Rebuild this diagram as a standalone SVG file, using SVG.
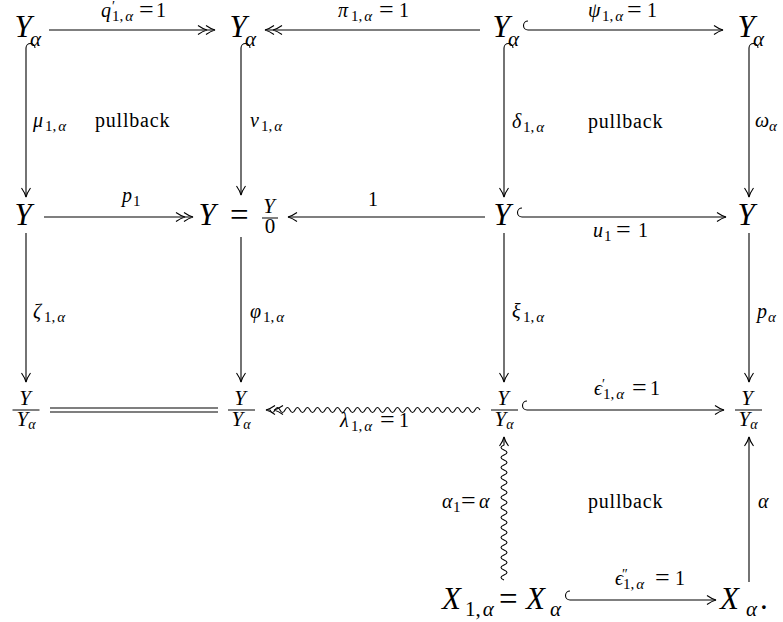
<svg xmlns="http://www.w3.org/2000/svg" width="783" height="622" viewBox="0 0 783 622">
<style>
.t{font-family:"Liberation Serif","Times New Roman",serif;fill:#000}
.i{font-style:italic}
.N{font-size:31px}
.eqN{font-size:33px}
.F{font-size:21px}
.L{font-size:20px}
.s{font-size:15px}
.eq{font-size:26px}
.s1{font-size:14px}
.pb{font-size:20px;letter-spacing:0.8px}
.a{fill:none;stroke:#000;stroke-width:1.1}
.bar{stroke:#000;stroke-width:1}
</style>
<defs>
<marker id="h1" markerUnits="userSpaceOnUse" orient="auto" markerWidth="20" markerHeight="20" refX="0" refY="0" style="overflow:visible">
<path d="M-9,-4.5 Q-4,-1 0,0 Q-4,1 -9,4.5" fill="none" stroke="#000" stroke-width="1.1"/>
</marker>
<marker id="h2" markerUnits="userSpaceOnUse" orient="auto" markerWidth="20" markerHeight="20" refX="0" refY="0" style="overflow:visible">
<path d="M-9,-4.5 Q-4,-1 0,0 Q-4,1 -9,4.5 M-17,-4.5 Q-12,-1 -8,0 Q-12,1 -17,4.5" fill="none" stroke="#000" stroke-width="1.1"/>
</marker>
</defs>
<rect width="783" height="622" fill="#fff"/>

<g id="connectors">
<path class="a" d="M49,30 H215" marker-end="url(#h2)"/>
<path class="a" d="M480,30 H265" marker-end="url(#h2)"/>
<path class="a" d="M528,30 A4.5,4.5 0 0 1 528,21"/>
<path class="a" d="M528,30 H723" marker-end="url(#h1)"/>
<path class="a" d="M44,217 H193" marker-end="url(#h2)"/>
<path class="a" d="M485,217 H288" marker-end="url(#h1)"/>
<path class="a" d="M522,217 A4.5,4.5 0 0 1 522,208"/>
<path class="a" d="M522,217 H726" marker-end="url(#h1)"/>
<path class="a" d="M50,408 H218 M50,412 H218"/>
<path class="a" d="M480,410 q-2.5,-5 -5,0 t-5,0 t-5,0 t-5,0 t-5,0 t-5,0 t-5,0 t-5,0 t-5,0 t-5,0 t-5,0 t-5,0 t-5,0 t-5,0 t-5,0 t-5,0 t-5,0 t-5,0 t-5,0 t-5,0 t-5,0 t-5,0 t-5,0 t-5,0 t-5,0 t-5,0 t-5,0 t-5,0 t-5,0 t-5,0 t-5,0 t-5,0 t-5,0 t-5,0 t-5,0 t-5,0 t-5,0 t-5,0 t-5,0 t-5,0 t-5,0 t-5,0 l-4,0" marker-end="url(#h2)"/>
<path class="a" d="M527,410 A4.5,4.5 0 0 1 527,401"/>
<path class="a" d="M527,410 H724" marker-end="url(#h1)"/>
<path class="a" d="M570,600 A4.5,4.5 0 0 1 570,591"/>
<path class="a" d="M570,600 H716" marker-end="url(#h1)"/>
<path class="a" d="M26,48 A4.5,4.5 0 0 1 35,48"/>
<path class="a" d="M26,48 V197" marker-end="url(#h1)"/>
<path class="a" d="M241,48 A4.5,4.5 0 0 1 250,48"/>
<path class="a" d="M241,48 V195" marker-end="url(#h1)"/>
<path class="a" d="M504,48 A4.5,4.5 0 0 1 513,48"/>
<path class="a" d="M504,48 V197" marker-end="url(#h1)"/>
<path class="a" d="M749,48 A4.5,4.5 0 0 1 758,48"/>
<path class="a" d="M749,48 V197" marker-end="url(#h1)"/>
<path class="a" d="M26,233 V382" marker-end="url(#h1)"/>
<path class="a" d="M241,237 V382" marker-end="url(#h1)"/>
<path class="a" d="M504,233 V382" marker-end="url(#h1)"/>
<path class="a" d="M749,233 V382" marker-end="url(#h1)"/>
<path class="a" d="M504,580 q-6,-2.5 0,-5 t0,-5 t0,-5 t0,-5 t0,-5 t0,-5 t0,-5 t0,-5 t0,-5 t0,-5 t0,-5 t0,-5 t0,-5 t0,-5 t0,-5 t0,-5 t0,-5 t0,-5 t0,-5 t0,-5 t0,-5 t0,-5 t0,-5 t0,-5 t0,-5 t0,-5 t0,-5 l0,-8" marker-end="url(#h1)"/>
<path class="a" d="M749,582 V437" marker-end="url(#h1)"/>
</g>

<g id="n11"><text class="t i N" x="23" y="37" text-anchor="middle">Y</text><text class="t i F" x="30" y="46">α</text></g>
<g id="n12"><text class="t i N" x="238" y="37" text-anchor="middle">Y</text><text class="t i F" x="245" y="46">α</text></g>
<g id="n13"><text class="t i N" x="501" y="37" text-anchor="middle">Y</text><text class="t i F" x="508" y="46">α</text></g>
<g id="n14"><text class="t i N" x="746" y="37" text-anchor="middle">Y</text><text class="t i F" x="753" y="46">α</text></g>

<g id="n21"><text class="t i N" x="23" y="225" text-anchor="middle">Y</text></g>
<g id="n22"><text class="t i N" x="207" y="225" text-anchor="middle">Y</text><text class="t eqN" x="230" y="226">=</text><text class="t i F" x="269" y="213" text-anchor="middle">Y</text><line class="bar" x1="262" y1="218" x2="278" y2="218"/><text class="t F" x="270" y="233" text-anchor="middle">0</text></g>
<g id="n23"><text class="t i N" x="502" y="225" text-anchor="middle">Y</text></g>
<g id="n24"><text class="t i N" x="746" y="225" text-anchor="middle">Y</text></g>

<g id="n31"><text class="t i F" x="25" y="405" text-anchor="middle">Y</text><line class="bar" x1="12.5" y1="410" x2="39.5" y2="410"/><text class="t i F" x="26" y="426" text-anchor="middle">Y<tspan class="s1" dy="3">α</tspan></text></g>
<g id="n32"><text class="t i F" x="240" y="405" text-anchor="middle">Y</text><line class="bar" x1="228" y1="410" x2="255" y2="410"/><text class="t i F" x="241" y="426" text-anchor="middle">Y<tspan class="s1" dy="3">α</tspan></text></g>
<g id="n33"><text class="t i F" x="503" y="405" text-anchor="middle">Y</text><line class="bar" x1="491" y1="410" x2="518" y2="410"/><text class="t i F" x="504" y="426" text-anchor="middle">Y<tspan class="s1" dy="3">α</tspan></text></g>
<g id="n34"><text class="t i F" x="747" y="405" text-anchor="middle">Y</text><line class="bar" x1="735" y1="410" x2="762" y2="410"/><text class="t i F" x="748" y="426" text-anchor="middle">Y<tspan class="s1" dy="3">α</tspan></text></g>

<g id="n43"><text class="t N"><tspan class="i" x="442" y="609">X</tspan><tspan class="F" x="465" y="616">1,</tspan><tspan class="F i" dx="2">α</tspan><tspan class="eqN" x="499" y="610">=</tspan><tspan class="i" x="526" y="609">X</tspan><tspan class="F i" x="550" y="616">α</tspan></text></g>
<g id="n44"><text class="t N"><tspan class="i" x="720" y="609">X</tspan><tspan class="F i" x="746" y="616">α</tspan><tspan x="760" y="609">.</tspan></text></g>

<g id="labels">
<text class="t L"><tspan class="i" x="101" y="17">q</tspan><tspan class="s1" x="112" y="11">′</tspan><tspan class="s" x="112" y="21">1,</tspan><tspan class="s i" dx="2">α</tspan><tspan class="eq" x="139" y="18">=</tspan><tspan x="156" y="17">1</tspan></text>
<text class="t L"><tspan class="i" x="338" y="17">π</tspan><tspan class="s" x="351" y="21">1,</tspan><tspan class="s i" dx="2">α</tspan><tspan class="eq" x="379" y="18">=</tspan><tspan x="399" y="17">1</tspan></text>
<text class="t L"><tspan class="i" x="588" y="17">ψ</tspan><tspan class="s" x="602" y="21">1,</tspan><tspan class="s i" dx="2">α</tspan><tspan class="eq" x="627" y="18">=</tspan><tspan x="647" y="17">1</tspan></text>
<text class="t L"><tspan class="i" x="122" y="202">p</tspan><tspan class="s" x="133" y="206">1</tspan></text>
<text class="t L" x="368" y="206">1</text>
<text class="t L"><tspan class="i" x="593" y="237">u</tspan><tspan class="s" x="604" y="241">1</tspan><tspan class="eq" x="616" y="238">=</tspan><tspan x="638" y="237">1</tspan></text>
<text class="t L"><tspan class="i" x="594" y="395">ϵ</tspan><tspan class="s1" x="602" y="389">′</tspan><tspan class="s" x="603" y="399">1,</tspan><tspan class="s i" dx="2">α</tspan><tspan class="eq" x="632" y="396">=</tspan><tspan x="650" y="395">1</tspan></text>
<text class="t L"><tspan class="i" x="340" y="427">λ</tspan><tspan class="s" x="351" y="431">1,</tspan><tspan class="s i" dx="2">α</tspan><tspan class="eq" x="380" y="428">=</tspan><tspan x="399" y="427">1</tspan></text>
<text class="t L"><tspan class="i" x="33" y="127">μ</tspan><tspan class="s" x="45" y="131">1,</tspan><tspan class="s i" dx="2">α</tspan></text>
<text class="t pb" x="95" y="127">pullback</text>
<text class="t L"><tspan class="i" x="250" y="127">v</tspan><tspan class="s" x="261" y="131">1,</tspan><tspan class="s i" dx="2">α</tspan></text>
<text class="t L"><tspan class="i" x="512" y="128">δ</tspan><tspan class="s" x="523" y="132">1,</tspan><tspan class="s i" dx="2">α</tspan></text>
<text class="t pb" x="588" y="128">pullback</text>
<text class="t L"><tspan class="i" x="755" y="127">ω</tspan><tspan class="s i" x="769" y="131">α</tspan></text>
<text class="t L"><tspan class="i" x="33" y="318">ζ</tspan><tspan class="s" x="44" y="322">1,</tspan><tspan class="s i" dx="2">α</tspan></text>
<text class="t L"><tspan class="i" x="250" y="318">φ</tspan><tspan class="s" x="263" y="322">1,</tspan><tspan class="s i" dx="2">α</tspan></text>
<text class="t L"><tspan class="i" x="512" y="318">ξ</tspan><tspan class="s" x="523" y="322">1,</tspan><tspan class="s i" dx="2">α</tspan></text>
<text class="t L"><tspan class="i" x="757" y="318">p</tspan><tspan class="s i" x="768" y="322">α</tspan></text>
<text class="t L"><tspan class="i" x="442" y="508">α</tspan><tspan class="s" x="453" y="512">1</tspan><tspan class="eq" x="461" y="509">=</tspan><tspan class="i" x="479" y="508">α</tspan></text>
<text class="t pb" x="588" y="508">pullback</text>
<text class="t L i" x="758" y="508">α</text>
<text class="t L"><tspan class="i" x="615" y="585">ϵ</tspan><tspan class="s1" x="622" y="579">″</tspan><tspan class="s" x="623" y="589">1,</tspan><tspan class="s i" dx="2">α</tspan><tspan class="eq" x="655" y="586">=</tspan><tspan x="675" y="585">1</tspan></text>
</g>
</svg>
